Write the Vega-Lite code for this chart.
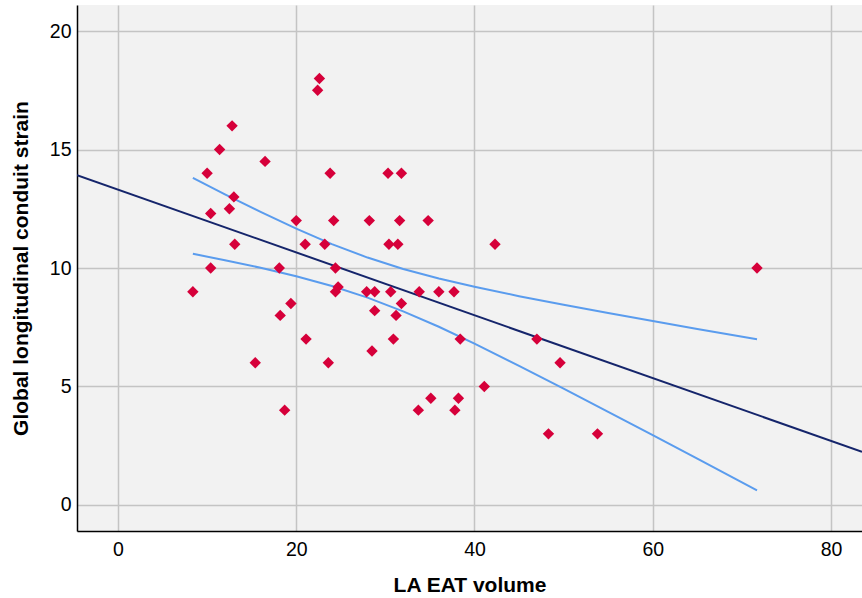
{
  "$schema": "https://vega.github.io/schema/vega-lite/v6.json",
  "width": 785,
  "height": 526,
  "autosize": {"type": "none"},
  "padding": {"left": 77, "top": 5, "right": 0, "bottom": 67},
  "background": "#ffffff",
  "config": {
    "view": {"fill": "#f2f2f2", "stroke": null},
    "font": "Liberation Sans",
    "axis": {
      "labelFont": "Liberation Sans",
      "titleFont": "Liberation Sans",
      "labelFontSize": 19.5,
      "titleFontSize": 21,
      "titleFontWeight": "bold",
      "labelColor": "#000000",
      "titleColor": "#000000",
      "gridColor": "#c4c4c4",
      "gridWidth": 1.5,
      "domainColor": "#000000",
      "domainWidth": 1.5,
      "ticks": false
    }
  },
  "datasets": {
    "pts": [
      {"x": 8.4, "y": 9.0}, {"x": 10.0, "y": 14.0}, {"x": 10.4, "y": 12.3}, {"x": 10.4, "y": 10.0},
      {"x": 11.4, "y": 15.0}, {"x": 12.8, "y": 16.0}, {"x": 12.5, "y": 12.5}, {"x": 13.0, "y": 13.0},
      {"x": 13.1, "y": 11.0}, {"x": 15.4, "y": 6.0}, {"x": 16.5, "y": 14.5}, {"x": 18.1, "y": 10.0},
      {"x": 18.2, "y": 8.0}, {"x": 18.7, "y": 4.0}, {"x": 19.4, "y": 8.5}, {"x": 20.0, "y": 12.0},
      {"x": 21.0, "y": 11.0}, {"x": 21.1, "y": 7.0}, {"x": 22.6, "y": 18.0}, {"x": 22.4, "y": 17.5},
      {"x": 23.2, "y": 11.0}, {"x": 23.6, "y": 6.0}, {"x": 23.8, "y": 14.0}, {"x": 24.2, "y": 12.0},
      {"x": 24.4, "y": 10.0}, {"x": 24.7, "y": 9.2}, {"x": 24.4, "y": 9.0}, {"x": 27.9, "y": 9.0},
      {"x": 28.2, "y": 12.0}, {"x": 28.8, "y": 9.0}, {"x": 28.8, "y": 8.2}, {"x": 28.5, "y": 6.5},
      {"x": 30.3, "y": 14.0}, {"x": 30.4, "y": 11.0}, {"x": 30.6, "y": 9.0}, {"x": 30.9, "y": 7.0},
      {"x": 31.2, "y": 8.0}, {"x": 31.4, "y": 11.0}, {"x": 31.8, "y": 14.0}, {"x": 31.6, "y": 12.0},
      {"x": 31.8, "y": 8.5}, {"x": 33.7, "y": 4.0}, {"x": 33.8, "y": 9.0}, {"x": 34.8, "y": 12.0},
      {"x": 35.1, "y": 4.5}, {"x": 36.0, "y": 9.0}, {"x": 37.7, "y": 9.0}, {"x": 37.8, "y": 4.0},
      {"x": 38.2, "y": 4.5}, {"x": 38.4, "y": 7.0}, {"x": 41.1, "y": 5.0}, {"x": 42.3, "y": 11.0},
      {"x": 47.0, "y": 7.0}, {"x": 48.3, "y": 3.0}, {"x": 49.6, "y": 6.0}, {"x": 53.8, "y": 3.0},
      {"x": 71.7, "y": 10.0}
    ],
    "fit": [
      {"x": -4.6, "y": 13.92}, {"x": 83.48, "y": 2.24}
    ],
    "band": [
      {"x": 8.4, "y": 13.80, "b": "upper"}, {"x": 12, "y": 13.11, "b": "upper"}, {"x": 16, "y": 12.37, "b": "upper"},
      {"x": 20, "y": 11.66, "b": "upper"}, {"x": 24, "y": 11.01, "b": "upper"}, {"x": 28, "y": 10.44, "b": "upper"},
      {"x": 32, "y": 9.96, "b": "upper"}, {"x": 36, "y": 9.56, "b": "upper"}, {"x": 40, "y": 9.21, "b": "upper"},
      {"x": 45, "y": 8.81, "b": "upper"}, {"x": 50, "y": 8.45, "b": "upper"}, {"x": 55, "y": 8.10, "b": "upper"},
      {"x": 60, "y": 7.76, "b": "upper"}, {"x": 65, "y": 7.43, "b": "upper"}, {"x": 71.7, "y": 6.99, "b": "upper"},
      {"x": 8.4, "y": 10.60, "b": "lower"}, {"x": 12, "y": 10.33, "b": "lower"}, {"x": 16, "y": 10.01, "b": "lower"},
      {"x": 20, "y": 9.65, "b": "lower"}, {"x": 24, "y": 9.24, "b": "lower"}, {"x": 28, "y": 8.75, "b": "lower"},
      {"x": 32, "y": 8.17, "b": "lower"}, {"x": 36, "y": 7.52, "b": "lower"}, {"x": 40, "y": 6.81, "b": "lower"},
      {"x": 45, "y": 5.87, "b": "lower"}, {"x": 50, "y": 4.91, "b": "lower"}, {"x": 55, "y": 3.93, "b": "lower"},
      {"x": 60, "y": 2.95, "b": "lower"}, {"x": 65, "y": 1.95, "b": "lower"}, {"x": 71.7, "y": 0.61, "b": "lower"}
    ]
  },
  "encoding": {
    "x": {
      "field": "x", "type": "quantitative",
      "scale": {"domain": [-4.6, 83.48], "nice": false, "zero": false},
      "axis": {"values": [0, 20, 40, 60, 80], "title": "LA EAT volume", "labelPadding": 9, "titlePadding": 16}
    },
    "y": {
      "field": "y", "type": "quantitative",
      "scale": {"domain": [-1.1, 21.1], "nice": false, "zero": false},
      "axis": {"values": [0, 5, 10, 15, 20], "title": "Global longitudinal conduit strain", "labelPadding": 6, "titlePadding": 18}
    }
  },
  "layer": [
    {
      "data": {"name": "band"},
      "mark": {"type": "line", "color": "#5a9cee", "strokeWidth": 2, "clip": true},
      "encoding": {"detail": {"field": "b"}}
    },
    {
      "data": {"name": "fit"},
      "mark": {"type": "line", "color": "#15256b", "strokeWidth": 2, "clip": true},
      "encoding": {}
    },
    {
      "data": {"name": "pts"},
      "mark": {"type": "point", "shape": "diamond", "filled": true, "color": "#d6003a", "opacity": 1, "size": 130}
    }
  ]
}
